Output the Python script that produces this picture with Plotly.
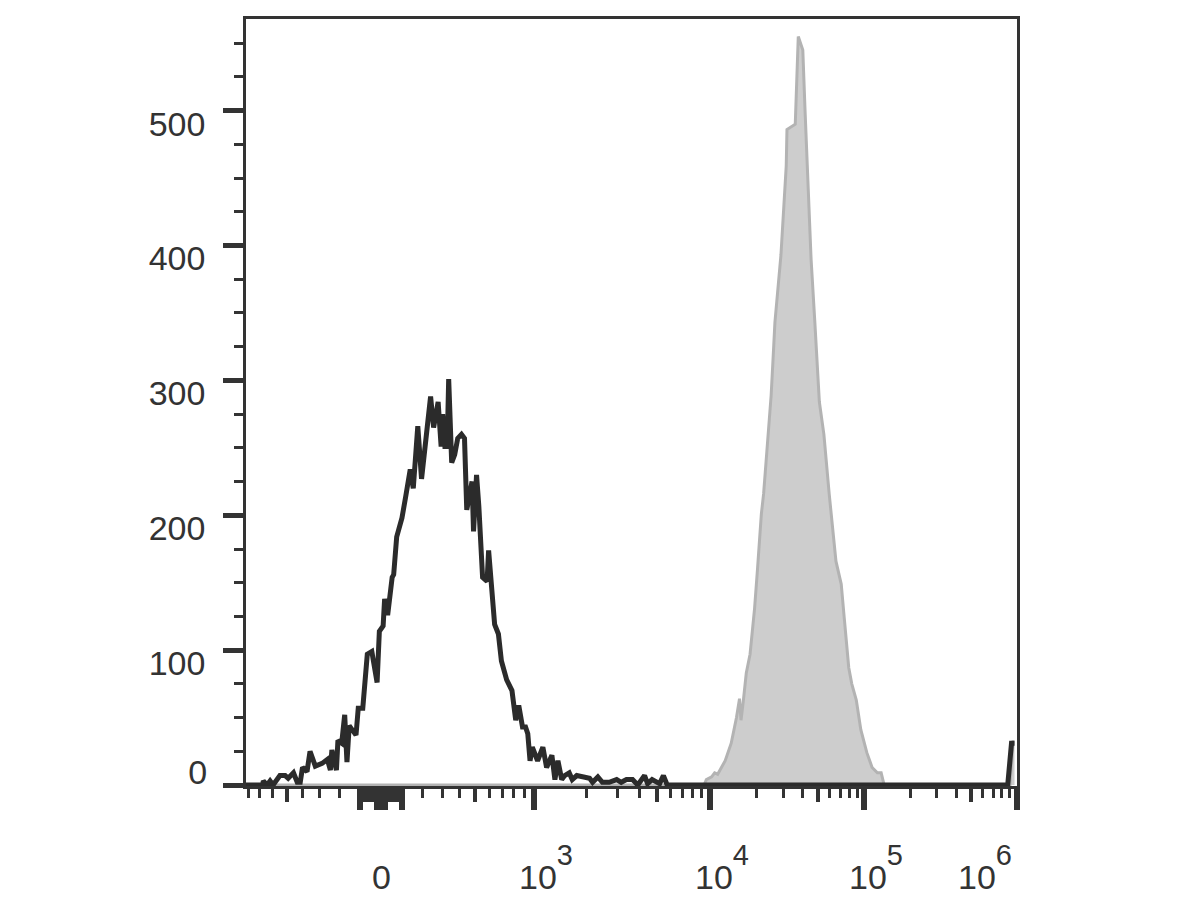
import numpy as np
import plotly.graph_objects as go

# ---------------- data (display channels 0-1024 on a biexponential axis) ----------------
BLACK_CH = [0, 23, 24, 29, 33, 37, 46, 53, 57, 64, 69, 73, 76, 82, 86, 93, 102, 109, 113, 115,
            121, 123, 128, 132, 135, 138, 147, 150, 156, 162, 168, 175, 178, 183, 185, 189, 195,
            197, 201, 208, 213, 219, 223, 229, 234, 241, 246, 250, 256, 260, 262, 265, 268, 270,
            274, 278, 282, 287, 291, 294, 301, 303, 307, 310, 315, 321, 323, 331, 336, 340, 347,
            354, 359, 363, 368, 372, 375, 378, 381, 388, 395, 400, 407, 411, 415, 420, 424, 430,
            434, 440, 448, 457, 461, 468, 474, 483, 493, 499, 506, 514, 521, 530, 534, 540, 550,
            555, 560, 1012, 1017, 1021]
BLACK_COUNT = [0, 0, 3, 0, 3, 0, 7, 7, 5, 9, 2, 2, 13, 10, 25, 14, 16, 19, 11, 26,
               11, 33, 31, 52, 17, 44, 37, 57, 57, 97, 99, 76, 114, 118, 138, 126, 154,
               156, 184, 198, 214, 234, 220, 266, 227, 264, 288, 265, 284, 251, 275, 251, 251, 301,
               239, 245, 257, 260, 257, 204, 225, 188, 230, 207, 154, 151, 174, 119, 112, 92, 78,
               70, 48, 59, 43, 43, 38, 18, 28, 18, 28, 13, 22, 4, 18, 4, 7, 9,
               4, 7, 6, 5, 2, 6, 2, 2, 4, 2, 4, 4, 0, 7, 1, 4, 1,
               7, 0, 0, 31, 31]

GRAY_CH = [0, 609, 612, 619, 623, 627, 632, 637, 645, 652, 656, 658, 661, 665, 670, 676, 680,
           685, 688, 691, 695, 698, 701, 703, 711, 715, 718, 719, 730, 734, 740, 743, 747, 751,
           756, 762, 768, 775, 784, 791, 795, 801, 805, 811, 817, 825, 832, 839, 844, 848,
           1015, 1019, 1021]
GRAY_COUNT = [0, 0, 4, 6, 9, 8, 13, 18, 31, 50, 64, 48, 62, 83, 97, 131, 161,
              201, 216, 238, 264, 289, 321, 343, 393, 427, 459, 486, 490, 555, 545, 500, 440, 390,
              343, 284, 260, 216, 166, 149, 124, 87, 75, 63, 41, 24, 13, 9, 9, 0,
              0, 32, 32]

Y_TICKS = [0, 100, 200, 300, 400, 500]
X_TICK_VALUES = [0, 1e3, 1e4, 1e5, 1e6]
X_TICK_EXPONENTS = [None, 3, 4, 5, 6]   # label "0", then 10^3 ... 10^6

# ---------------- axis calibration (value -> display channel) ----------------
ZERO_CH, LIN_K, LIN_W = 180.2, 137.4, 480.0
DECADE_EXP = [3, 4, 5, 6]
DECADE_CH = [382.8, 616.7, 821.3, 1024.0]


def axis_pos(v):
    v = np.asarray(v, dtype=float)
    lin = ZERO_CH + LIN_K * np.arcsinh(v / LIN_W)
    dec = np.interp(np.log10(np.maximum(np.abs(v), 1.0)), DECADE_EXP, DECADE_CH)
    return np.where(np.abs(v) <= 1000, lin, dec)


long_vals = [-100, -20, -10, 0, 10, 20, 100] + [1e3, 1e4, 1e5, 1e6]
medium_vals = [-500, 500, 5e3, 5e4, 5e5] + list(range(-90, -29, 10)) + list(range(30, 91, 10))
short_vals = [-800, -700, -600, -400, -300, -200, 200, 300, 400, 600, 700, 800, 900]
short_vals += [m * 10 ** d for d in (3, 4, 5) for m in (2, 3, 4, 6, 7, 8, 9)]

INK = "#333333"
FONT = "Liberation Sans, Arial, sans-serif"
X_RANGE = [1, 1024.3]
Y_RANGE = [-0.74, 568]

fig = go.Figure()
fig.add_trace(go.Scatter(x=GRAY_CH, y=GRAY_COUNT, mode="lines", fill="tozeroy",
                         fillcolor="#cdcdcd", line=dict(color="#b3b3b3", width=3),
                         showlegend=False, hoverinfo="skip"))
fig.add_trace(go.Scatter(x=BLACK_CH, y=BLACK_COUNT, mode="lines",
                         line=dict(color="#2b2b2b", width=5),
                         showlegend=False, hoverinfo="skip"))
# empty trace so the overlay axes (medium x ticks, "0" y label) are drawn
fig.add_trace(go.Scatter(x=[], y=[], xaxis="x2", yaxis="y2", showlegend=False, hoverinfo="skip"))

fig.update_layout(
    width=1200, height=900,
    margin=dict(l=238, r=191, t=8, b=122),
    plot_bgcolor="white", paper_bgcolor="white",
    showlegend=False,
    font=dict(family=FONT, size=34, color=INK),
    xaxis=dict(range=X_RANGE, showline=True, linecolor=INK, linewidth=2.5, mirror=True,
               ticks="outside", tickmode="array", tickvals=axis_pos(long_vals).tolist(),
               ticklen=21, tickwidth=5.5, tickcolor=INK, showticklabels=False,
               showgrid=False, zeroline=False,
               minor=dict(tickmode="array", tickvals=axis_pos(short_vals).tolist(),
                          ticks="outside", ticklen=9, tickwidth=3, tickcolor=INK, showgrid=False)),
    xaxis2=dict(range=X_RANGE, overlaying="x", anchor="y", side="bottom", showline=False,
                ticks="outside", tickmode="array", tickvals=axis_pos(medium_vals).tolist(),
                ticklen=15, tickwidth=4.2, tickcolor=INK, showticklabels=False,
                showgrid=False, zeroline=False),
    yaxis=dict(range=Y_RANGE, showline=True, linecolor=INK, linewidth=2.5, mirror=True,
               ticks="outside", tickmode="array", tickvals=Y_TICKS,
               ticktext=["" if v == 0 else str(v) for v in Y_TICKS],
               ticklen=20, tickwidth=4.5, tickcolor=INK,
               ticklabelshift=13, ticklabelstandoff=11,
               tickfont=dict(family=FONT, size=34, color=INK),
               showgrid=False, zeroline=False,
               minor=dict(tick0=0, dtick=25, ticks="outside", ticklen=9, tickwidth=2.5,
                          tickcolor=INK, showgrid=False)),
    yaxis2=dict(range=Y_RANGE, overlaying="y", anchor="x", side="left", showline=False,
                ticks="outside", tickmode="array", tickvals=[Y_TICKS[0]],
                ticktext=[str(Y_TICKS[0])], ticklen=20, tickwidth=1,
                tickcolor="rgba(0,0,0,0)", ticklabelshift=-13, ticklabelstandoff=11,
                tickfont=dict(family=FONT, size=34, color=INK),
                showgrid=False, zeroline=False),
)

for val, ex in zip(X_TICK_VALUES, X_TICK_EXPONENTS):
    if ex is None:
        text, shift = "0", 0
    else:
        text = "10<sup><sup><span style='font-size:29px'>%d</span></sup></sup>" % ex
        shift = -32 if val == X_TICK_VALUES[-1] else 12
    fig.add_annotation(x=float(axis_pos(val)), xref="x", y=0, yref="paper",
                       yanchor="bottom", yshift=-112, xshift=shift, showarrow=False,
                       text=text, font=dict(family=FONT, size=34, color=INK))

fig.write_html("out.html")
